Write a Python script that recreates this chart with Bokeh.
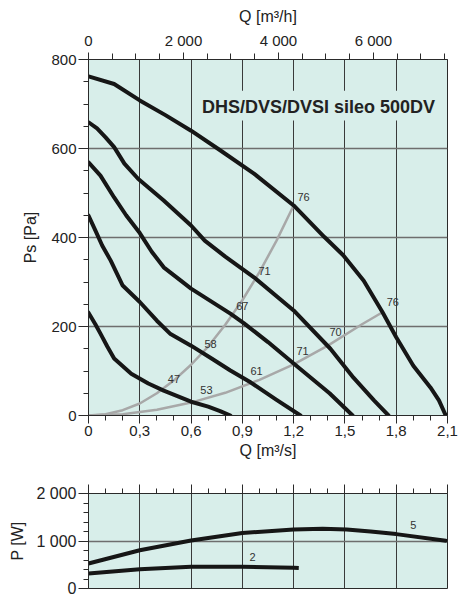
from bokeh.plotting import figure
from bokeh.models import Range1d, LinearAxis, FixedTicker, CustomJSTickFormatter, Label
from bokeh.layouts import column
from bokeh.core.properties import value
from bokeh.embed import file_html
from bokeh.resources import INLINE

# ---------------- data ----------------
TITLE = "DHS/DVS/DVSI sileo 500DV"

# fan curves, Q [m3/s] -> Ps [Pa]
Q1 = [0, 0.15, 0.30, 0.45, 0.60, 0.77, 0.97, 1.20, 1.38, 1.49, 1.61, 1.72, 1.80, 1.90, 2.00, 2.05, 2.09]
P1 = [762, 745, 708, 675, 640, 596, 543, 472, 401, 360, 303, 232, 176, 112, 63, 34, 0]
Q2 = [0, 0.05, 0.10, 0.15, 0.21, 0.29, 0.44, 0.60, 0.68, 0.80, 0.97, 1.20, 1.415, 1.55, 1.67, 1.755]
P2 = [659, 645, 625, 603, 566, 532, 483, 427, 393, 357, 310, 236, 150, 85, 34, 0]
Q3 = [0, 0.07, 0.15, 0.22, 0.30, 0.37, 0.44, 0.54, 0.60, 0.83, 0.91, 1.05, 1.20, 1.41, 1.545]
P3 = [569, 539, 490, 450, 410, 368, 333, 303, 285, 229, 207, 165, 117, 50, 0]
Q4 = [0, 0.04, 0.08, 0.13, 0.20, 0.30, 0.40, 0.48, 0.60, 0.72, 0.83, 0.95, 1.10, 1.24]
P4 = [449, 416, 382, 348, 292, 255, 213, 183, 157, 128, 101, 74, 35, 0]
Q5 = [0, 0.04, 0.07, 0.11, 0.15, 0.25, 0.35, 0.44, 0.60, 0.70, 0.77, 0.83]
P5 = [231, 205, 184, 155, 128, 94, 72, 56, 31, 20, 10, 0]
FAN_Q = [Q1, Q2, Q3, Q4, Q5]
FAN_P = [P1, P2, P3, P4, P5]

# system curves (grey)
GQ1 = [0, 0.1, 0.2, 0.3, 0.4, 0.5, 0.6, 0.7, 0.8, 0.9, 1.0, 1.1, 1.2]
GP1 = [0, 3, 12, 27, 50, 79, 114, 155, 204, 259, 322, 393, 472]
GQ2 = [0, 0.2, 0.4, 0.6, 0.8, 1.0, 1.2, 1.4, 1.6, 1.72]
GP2 = [0, 3, 13, 29, 51, 80, 115, 157, 205, 232]

# sound level labels on the system curves
LBL_Q = [0.50, 0.714, 0.90, 1.03, 1.258, 0.69, 0.983, 1.252, 1.445, 1.78]
LBL_P = [83, 160, 247, 324, 492, 58, 99, 146, 187, 256]
LBL_T = ["47", "58", "67", "71", "76", "53", "61", "71", "70", "76"]

# power curves, Q [m3/s] -> P [W]
PQ5 = [0, 0.30, 0.60, 0.90, 1.20, 1.37, 1.51, 1.65, 1.80, 2.09]
PW5 = [526, 805, 1010, 1170, 1240, 1260, 1240, 1200, 1145, 1005]
PQ2 = [0, 0.30, 0.60, 0.90, 1.20, 1.23]
PW2 = [316, 407, 456, 456, 435, 430]
PLBL_Q = [1.90, 0.96]
PLBL_P = [1333, 660]
PLBL_T = ["5", "2"]

# ticks
X_TICKS = [0, 0.3, 0.6, 0.9, 1.2, 1.5, 1.8, 2.1]
X_MINOR = [0.1, 0.2, 0.4, 0.5, 0.7, 0.8, 1.0, 1.1, 1.3, 1.4, 1.6, 1.7, 1.9, 2.0]
H_TICKS = [0, 2000, 4000, 6000]
H_MINOR = [500, 1000, 1500, 2500, 3000, 3500, 4500, 5000, 5500, 6500, 7000, 7500]
Y_TICKS = [0, 200, 400, 600, 800]
Y_MINOR = [50, 100, 150, 250, 300, 350, 450, 500, 550, 650, 700, 750]
PY_TICKS = [0, 1000, 2000]
PY_MINOR = [200, 400, 600, 800, 1200, 1400, 1600, 1800]

Q_MAX = 2.1
PS_MAX = 800
PW_MAX = 2000

# ---------------- style ----------------
FONT = "Liberation Sans"
BG = "#d8eeea"
INK = "#222222"
AXC = "#2a2a2a"

comma_fmt = CustomJSTickFormatter(code="return tick == 0 ? '0' : tick.toFixed(1).replace('.', ',');")
space_code = ("const s = Math.round(tick).toString();"
              "return s.length > 3 ? s.slice(0, s.length-3) + ' ' + s.slice(s.length-3) : s;")


def style_axis(ax, size="15px"):
    ax.axis_line_color = AXC
    ax.major_tick_line_color = AXC
    ax.minor_tick_line_color = AXC
    ax.major_tick_in = 0
    ax.minor_tick_in = 0
    ax.major_label_text_font = FONT
    ax.major_label_text_font_size = size
    ax.major_label_text_color = INK
    ax.axis_label_text_font = FONT
    ax.axis_label_text_font_size = "16px"
    ax.axis_label_text_font_style = "normal"
    ax.axis_label_text_color = INK


# ---------------- main chart ----------------
p1 = figure(width=459, height=470, x_range=Range1d(0, Q_MAX), y_range=Range1d(0, PS_MAX),
            output_backend="svg", toolbar_location=None,
            min_border_left=88, min_border_right=12, min_border_top=59, min_border_bottom=55)
p1.background_fill_color = BG
p1.border_fill_color = "white"
p1.outline_line_color = AXC
p1.outline_line_width = 1
p1.extra_x_ranges = {"h": Range1d(0, Q_MAX * 3600)}

xb = p1.below[0]
xb.ticker = FixedTicker(ticks=X_TICKS, minor_ticks=X_MINOR)
xb.formatter = comma_fmt
xb.axis_label = "Q [m³/s]"
style_axis(xb)
xb.major_tick_out = 8
xb.minor_tick_out = 5
xb.major_label_standoff = 2
xb.axis_label_standoff = 3

yl = p1.left[0]
yl.ticker = FixedTicker(ticks=Y_TICKS, minor_ticks=Y_MINOR)
yl.axis_label = "Ps [Pa]"
style_axis(yl)
yl.major_tick_out = 10
yl.minor_tick_out = 5
yl.major_label_standoff = 2
yl.axis_label_standoff = 9

xt = LinearAxis(x_range_name="h", ticker=FixedTicker(ticks=H_TICKS, minor_ticks=H_MINOR),
                formatter=CustomJSTickFormatter(code=space_code), axis_label="Q [m³/h]")
style_axis(xt)
xt.major_tick_out = 7
xt.minor_tick_out = 6
xt.major_label_standoff = 4
xt.axis_label_standoff = 4
p1.add_layout(xt, "above")

p1.xgrid.ticker = FixedTicker(ticks=X_TICKS)
p1.xgrid.grid_line_color = "#3a3a3a"
p1.xgrid.grid_line_width = 1
p1.ygrid.ticker = FixedTicker(ticks=[200, 400, 600])
p1.ygrid.grid_line_color = "#6e6e6e"
p1.ygrid.grid_line_width = 1.5

# title box covering the grid
p1.quad(left=[0.655], right=[2.06], bottom=[663], top=[730], fill_color=BG, line_color=None)
p1.add_layout(Label(x=1.345, y=694, text=TITLE, text_align="center", text_baseline="middle",
                    text_font=FONT, text_font_size="18px", text_font_style="bold", text_color=INK))

p1.line(GQ1, GP1, line_color="#a8a8a8", line_width=2.5)
p1.line(GQ2, GP2, line_color="#a8a8a8", line_width=2.5)
for q, ps in zip(FAN_Q, FAN_P):
    p1.line(q, ps, line_color="#161616", line_width=4, line_join="round", line_cap="round")

p1.text(x=LBL_Q, y=LBL_P, text=LBL_T, text_font=value(FONT), text_font_size="11px",
        text_align="center", text_baseline="middle", text_color="#333333")

# ---------------- power chart ----------------
p2 = figure(width=459, height=130, x_range=Range1d(0, Q_MAX), y_range=Range1d(0, PW_MAX),
            x_axis_location="above", output_backend="svg", toolbar_location=None,
            min_border_left=88, min_border_right=12, min_border_top=23, min_border_bottom=12)
p2.background_fill_color = BG
p2.border_fill_color = "white"
p2.outline_line_color = AXC
p2.outline_line_width = 1

xa = p2.above[0]
xa.ticker = FixedTicker(ticks=X_TICKS, minor_ticks=X_MINOR)
style_axis(xa)
xa.major_tick_out = 9
xa.minor_tick_out = 5
xa.major_label_text_font_size = "1px"
xa.major_label_text_color = None
xa.major_label_standoff = 0

y2 = p2.left[0]
y2.ticker = FixedTicker(ticks=PY_TICKS, minor_ticks=PY_MINOR)
y2.formatter = CustomJSTickFormatter(code=space_code)
y2.axis_label = "P [W]"
style_axis(y2, "16px")
y2.major_tick_out = 10
y2.minor_tick_out = 5
y2.major_label_standoff = 2
y2.axis_label_standoff = 7

p2.xgrid.ticker = FixedTicker(ticks=X_TICKS)
p2.xgrid.grid_line_color = "#3a3a3a"
p2.xgrid.grid_line_width = 1
p2.ygrid.ticker = FixedTicker(ticks=[1000])
p2.ygrid.grid_line_color = "#6e6e6e"
p2.ygrid.grid_line_width = 1.5

p2.line(PQ5, PW5, line_color="#161616", line_width=4, line_cap="round")
p2.line(PQ2, PW2, line_color="#161616", line_width=4, line_cap="butt")
p2.text(x=PLBL_Q, y=PLBL_P, text=PLBL_T, text_font=value(FONT), text_font_size="11px",
        text_align="center", text_baseline="middle", text_color="#333333")

layout = column(p1, p2, spacing=0)
open("out.html", "w").write(file_html(layout, INLINE))
